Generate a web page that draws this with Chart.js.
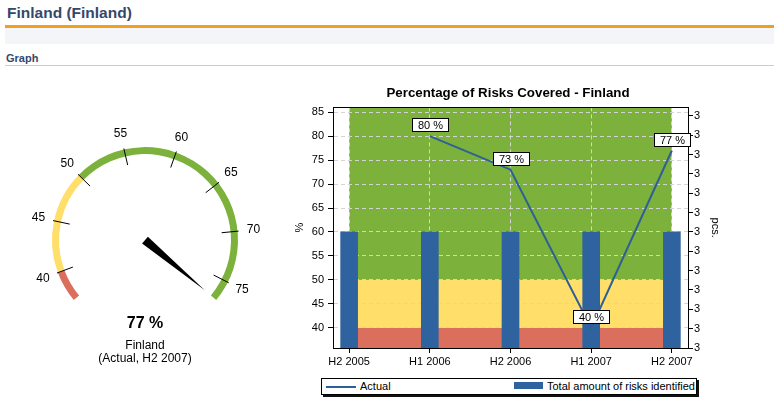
<!DOCTYPE html>
<html>
<head>
<meta charset="utf-8">
<script src="https://cdn.jsdelivr.net/npm/chart.js@4.4.1/dist/chart.umd.min.js"></script>
<style>
body { margin:0; width:774px; height:408px; background:#fff; position:relative; overflow:hidden;
       font-family:"Liberation Sans", Arial, sans-serif; }
#head { position:absolute; left:7px; top:4px; font-size:15.5px; font-weight:bold; color:#37476a; }
#orange { position:absolute; left:5px; right:0; top:25px; height:3px; background:#f0a01e; }
#band { position:absolute; left:5px; right:0; top:28px; height:16px; background:#f3f5f9; }
#sub { position:absolute; left:6px; top:52px; font-size:11px; font-weight:bold; color:#37476a; }
#rule { position:absolute; left:5px; right:0; top:65px; height:1px; background:#c5ced8; }
canvas { position:absolute; }
.gtxt { position:absolute; left:0; width:290px; text-align:center; color:#000; }
#gVal { top:314px; font-size:16px; font-weight:bold; }
#gName { top:338px; font-size:12px; }
#gSub { top:351px; font-size:12px; }
#legend { position:absolute; left:321px; top:378px; width:374px; height:15px; border:1px solid #000;
          box-shadow:2px 2px 0 #111; background:#fff; font-size:11px; }
#legend span { position:absolute; }
</style>
</head>
<body>
<div id="head">Finland (Finland)</div>
<div id="orange"></div>
<div id="band"></div>
<div id="sub">Graph</div>
<div id="rule"></div>

<canvas id="gauge" width="290" height="283" style="left:0;top:82px"></canvas>
<div class="gtxt" id="gVal"></div>
<div class="gtxt" id="gName">Finland</div>
<div class="gtxt" id="gSub">(Actual, H2 2007)</div>

<canvas id="risks" width="436" height="290" style="left:290px;top:78px"></canvas>
<div id="legend">
  <span id="lkLine" style="left:4px;top:7px;width:30px;height:2px;background:#2f5f97"></span>
  <span id="lkLineTxt" style="left:38px;top:1px"></span>
  <span id="lkBar" style="left:192px;top:3px;width:29px;height:7px;background:#2f63a0"></span>
  <span id="lkBarTxt" style="left:225px;top:1px"></span>
</div>

<script>
/* ---------- data ---------- */
const periods = ["H2 2005", "H1 2006", "H2 2006", "H1 2007", "H2 2007"];
const actual = [null, 80, 73, 40, 77];
const risksIdentified = [3, 3, 3, 3, 3];
const seriesNames = ["Actual", "Total amount of risks identified"];
const pctTicks = [40, 45, 50, 55, 60, 65, 70, 75, 80, 85];
const pcsTicks = [2.7, 2.75, 2.8, 2.85, 2.9, 2.95, 3, 3.05, 3.1, 3.15, 3.2, 3.25, 3.3];
const zoneLimits = [40, 50];            // red below, yellow between, green above

const gaugeMin = 37;
const gaugeBands = [3, 10, 27];          // 37-40, 40-50, 50-77
const gaugeTicks = [40, 45, 50, 55, 60, 65, 70, 75];
const gaugeValue = 77;

/* ---------- styles ---------- */
const RED = "#db6f5d", YELLOW = "#ffde6a", GREEN = "#7cb13b";
const zoneColors = [RED, YELLOW, GREEN];
const FONT = '"Liberation Sans", Arial, sans-serif';

Chart.defaults.font.family = FONT;
Chart.defaults.font.size = 11;
Chart.defaults.color = "#000";

document.getElementById("gVal").innerText = gaugeValue + " %";
document.getElementById("lkLineTxt").innerText = seriesNames[0];
document.getElementById("lkBarTxt").innerText = seriesNames[1];

/* ---------- gauge ---------- */
const gaugeDial = {
    id: "gaugeDial",
    afterDraw(chart) {
        const arcs = chart.getDatasetMeta(0).data;
        const first = arcs[0], last = arcs[arcs.length - 1];
        const cx = first.x, cy = first.y, r = first.outerRadius;
        const a0 = first.startAngle, a1 = last.endAngle;
        const total = gaugeBands.reduce((s, v) => s + v, 0);
        const ang = v => a0 + (v - gaugeMin) / total * (a1 - a0);
        const ctx = chart.ctx;

        ctx.save();
        ctx.strokeStyle = "#000";
        ctx.lineWidth = 1;
        ctx.fillStyle = "#000";
        ctx.font = "12px " + FONT;
        ctx.textAlign = "center";
        ctx.textBaseline = "middle";

        gaugeTicks.forEach(t => {
            const a = ang(t);
            ctx.beginPath();
            ctx.moveTo(cx + Math.cos(a) * (r - 16), cy + Math.sin(a) * (r - 16));
            ctx.lineTo(cx + Math.cos(a) * (r + 1), cy + Math.sin(a) * (r + 1));
            ctx.stroke();
            ctx.fillText(String(t), cx + Math.cos(a) * (r + 16), cy + Math.sin(a) * (r + 16));
        });

        // needle
        const a = ang(gaugeValue);
        const len = r * 0.84, hw = 4.5;
        ctx.beginPath();
        ctx.moveTo(cx + Math.cos(a + Math.PI / 2) * hw, cy + Math.sin(a + Math.PI / 2) * hw);
        ctx.lineTo(cx + Math.cos(a) * len, cy + Math.sin(a) * len);
        ctx.lineTo(cx + Math.cos(a - Math.PI / 2) * hw, cy + Math.sin(a - Math.PI / 2) * hw);
        ctx.closePath();
        ctx.fill();
        ctx.restore();
    }
};

new Chart(document.getElementById("gauge"), {
    type: "doughnut",
    data: {
        datasets: [{
            data: gaugeBands,
            backgroundColor: zoneColors,
            borderWidth: 0
        }]
    },
    options: {
        responsive: false,
        animation: false,
        events: [],
        rotation: 230,
        circumference: 260,
        radius: 93,
        cutout: "92.5%",
        plugins: { legend: { display: false }, tooltip: { enabled: false } }
    },
    plugins: [gaugeDial]
});

/* ---------- bar + line chart ---------- */
const zones = {
    id: "zones",
    beforeDraw(chart) {
        const { ctx, scales: { x, y } } = chart;
        const x0 = x.getPixelForValue(0);
        const x1 = x.getPixelForValue(periods.length - 1);
        const edges = [y.min, ...zoneLimits, y.max];
        ctx.save();
        zoneColors.forEach((c, i) => {
            const top = y.getPixelForValue(edges[i + 1]);
            const bot = y.getPixelForValue(edges[i]);
            ctx.fillStyle = c;
            ctx.fillRect(x0, top, x1 - x0, bot - top);
        });
        ctx.restore();
    },
    afterDraw(chart) {
        const { ctx, chartArea: a } = chart;
        ctx.save();
        ctx.strokeStyle = "#000";
        ctx.lineWidth = 1;
        ctx.beginPath();
        ctx.moveTo(a.left, Math.round(a.top) + 0.5);
        ctx.lineTo(a.right, Math.round(a.top) + 0.5);
        ctx.stroke();
        ctx.restore();
    }
};

const valueBoxes = {
    id: "valueBoxes",
    afterDatasetsDraw(chart) {
        const meta = chart.getDatasetMeta(0);
        const ctx = chart.ctx;
        ctx.save();
        ctx.font = "11px " + FONT;
        ctx.textAlign = "center";
        ctx.textBaseline = "middle";
        meta.data.forEach((pt, i) => {
            if (actual[i] == null) return;
            const txt = actual[i] + " %";
            const w = Math.round(ctx.measureText(txt).width + 11), h = 13;
            const bx = Math.round(pt.x - w / 2) + 0.5;
            const by = Math.round(pt.y - 5 - h) + 0.5;
            ctx.fillStyle = "#fff";
            ctx.fillRect(bx, by, w, h);
            ctx.strokeStyle = "#000";
            ctx.lineWidth = 1;
            ctx.strokeRect(bx, by, w, h);
            ctx.fillStyle = "#000";
            ctx.fillText(txt, bx + w / 2, by + h / 2 + 0.5);
        });
        ctx.restore();
    }
};

new Chart(document.getElementById("risks"), {
    type: "bar",
    data: {
        datasets: [
            {
                type: "line",
                label: seriesNames[0],
                data: periods.map((p, i) => ({ x: i, y: actual[i] })),
                yAxisID: "y",
                borderColor: "#2f5f97",
                borderWidth: 2,
                pointRadius: 0,
                tension: 0,
                order: 0
            },
            {
                type: "bar",
                label: seriesNames[1],
                data: periods.map((p, i) => ({ x: i, y: risksIdentified[i] })),
                yAxisID: "y1",
                backgroundColor: "#2f63a0",
                barThickness: 17,
                order: 1
            }
        ]
    },
    options: {
        responsive: false,
        animation: false,
        events: [],
        layout: { padding: 0 },
        plugins: {
            legend: { display: false },
            tooltip: { enabled: false },
            title: {
                display: true,
                text: "Percentage of Risks Covered - Finland",
                font: { size: 13.3, weight: "bold", lineHeight: 1.08 },
                color: "#000",
                padding: { top: 8, bottom: 7 }
            }
        },
        scales: {
            x: {
                type: "linear",
                min: -0.2,
                max: periods.length - 1 + 0.2,
                offset: false,
                afterBuildTicks: s => { s.ticks = periods.map((p, i) => ({ value: i })); },
                afterFit: s => { s.height = 20; },
                ticks: {
                    callback: v => periods[v],
                    maxRotation: 0,
                    autoSkip: false,
                    padding: 2
                },
                grid: {
                    offset: false,
                    color: "#d4d4d4",
                    tickColor: "#000",
                    tickLength: 5
                },
                border: { color: "#000", dash: [4, 3] }
            },
            y: {
                position: "left",
                min: 35.8,
                max: 86,
                afterBuildTicks: s => { s.ticks = pctTicks.map(v => ({ value: v })); },
                afterFit: s => { s.width = 43; },
                ticks: { padding: 4 },
                title: { display: true, text: "%", padding: { top: 3, bottom: 3 } },
                grid: {
                    color: "#d4d4d4",
                    tickColor: "#000",
                    tickLength: 5
                },
                border: { color: "#000", dash: [4, 3] }
            },
            y1: {
                position: "right",
                min: 2.7,
                max: 3.322,
                afterBuildTicks: s => { s.ticks = pcsTicks.map(v => ({ value: v })); },
                afterFit: s => { s.width = 38; },
                ticks: { padding: 1, callback: v => Math.round(v) },
                title: { display: true, text: "pcs.", padding: { top: 4, bottom: 4 } },
                grid: {
                    drawOnChartArea: false,
                    tickColor: "#000",
                    tickLength: 5
                },
                border: { color: "#000" }
            }
        }
    },
    plugins: [zones, valueBoxes]
});
</script>
</body>
</html>
